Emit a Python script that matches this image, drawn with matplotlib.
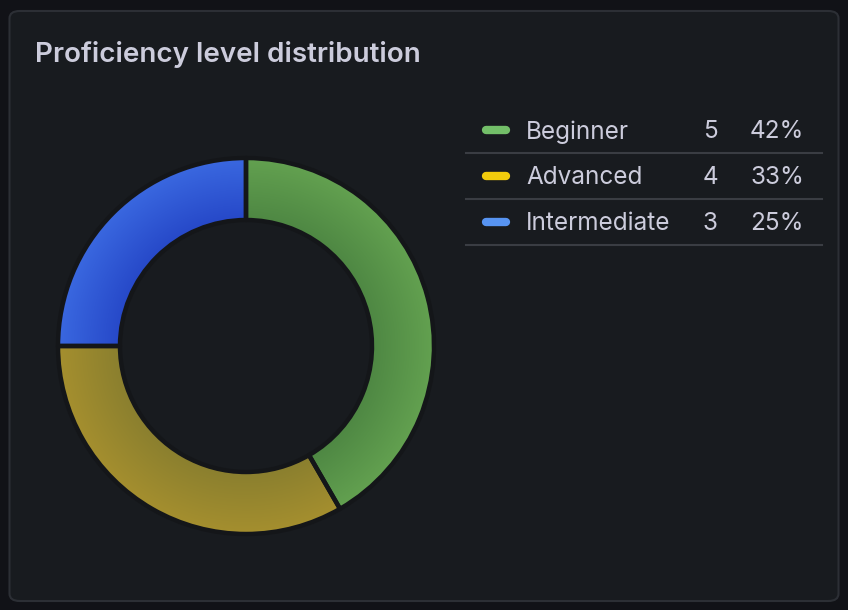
import numpy as np
import matplotlib.pyplot as plt
from matplotlib.colors import to_rgb
from matplotlib.patches import FancyBboxPatch
from matplotlib.lines import Line2D

# данные панели
labels = ["Beginner", "Advanced", "Intermediate"]
values = [5, 4, 3]
legend_colors = ["#73BF69", "#F2CC0C", "#5794F2"]
# цвета сектора: у внутреннего и внешнего края (радиальный градиент)
inner_colors = ["#4e8743", "#8a7f2f", "#2648c8"]
outer_colors = ["#63a150", "#a58f2e", "#3a68e0"]

W, H = 848, 610
bg_outer = "#111217"
bg_panel = "#181b1f"
txt_color = "#ccccdc"

plt.rcParams["font.family"] = ["Inter", "DejaVu Sans"]

fig = plt.figure(figsize=(W / 100, H / 100), dpi=100)
fig.patch.set_facecolor(bg_outer)


def fx(x):
    return x / W


def fy(y):
    return 1 - y / H


# фон панели (под осями)
panel = FancyBboxPatch((fx(9.5), fy(601)), fx(829), 590 / H,
                       boxstyle="round,pad=0,rounding_size=0.012",
                       transform=fig.transFigure, facecolor=bg_panel,
                       edgecolor="#2c2f35", linewidth=1.5, zorder=-5)
fig.patches.append(panel)

fig.text(fx(35), fy(55), "Proficiency level distribution", color=txt_color,
         fontsize=20, fontweight="semibold", va="center", ha="left")

# кольцевая диаграмма
cx, cy, half = 246, 346, 200
ax = fig.add_axes([fx(cx - half), fy(cy + half), 2 * half / W, 2 * half / H])
ax.set_zorder(1)

r_out, width = 188, 62
wedges, _ = ax.pie(values, radius=r_out, startangle=90, counterclock=False,
                   colors=outer_colors,
                   wedgeprops=dict(width=width, edgecolor="#141619", linewidth=3.2,
                                   joinstyle="round"))

gx = np.linspace(-half, half, 800)
gxx, gyy = np.meshgrid(gx, gx)
t = np.clip((np.hypot(gxx, gyy) - (r_out - width)) / width, 0, 1)[..., None]
for w, ci, co in zip(wedges, inner_colors, outer_colors):
    c1 = np.array(to_rgb(ci))
    c2 = np.array(to_rgb(co))
    img = c1 + (c2 - c1) * t
    im = ax.imshow(img, extent=(-half, half, -half, half), origin="lower",
                   zorder=w.get_zorder() - 0.1, interpolation="bilinear")
    im.set_clip_path(w)
    w.set_facecolor("none")

ax.set_xlim(-half, half)
ax.set_ylim(-half, half)
ax.set_aspect("equal")
ax.axis("off")

# легенда-таблица
total = sum(values)
row_y = [130, 176, 222]
fs = 17.5
for i, (lab, val, col) in enumerate(zip(labels, values, legend_colors)):
    y = row_y[i]
    fig.add_artist(Line2D([fx(486), fx(506)], [fy(y), fy(y)], color=col,
                          linewidth=6, solid_capstyle="round",
                          transform=fig.transFigure))
    ty = fy(y + 2)
    fig.text(fx(526), ty, lab, color=txt_color, fontsize=fs,
             va="center", ha="left")
    fig.text(fx(718), ty, str(val), color=txt_color, fontsize=fs,
             va="center", ha="right")
    fig.text(fx(804), ty, f"{round(val / total * 100)}%", color=txt_color,
             fontsize=fs, va="center", ha="right")
    fig.add_artist(Line2D([fx(466), fx(822)], [fy(y + 23), fy(y + 23)],
                          color="#3a3d43", linewidth=1.5,
                          transform=fig.transFigure))

fig.savefig("out.png", dpi=100, facecolor=fig.get_facecolor())
